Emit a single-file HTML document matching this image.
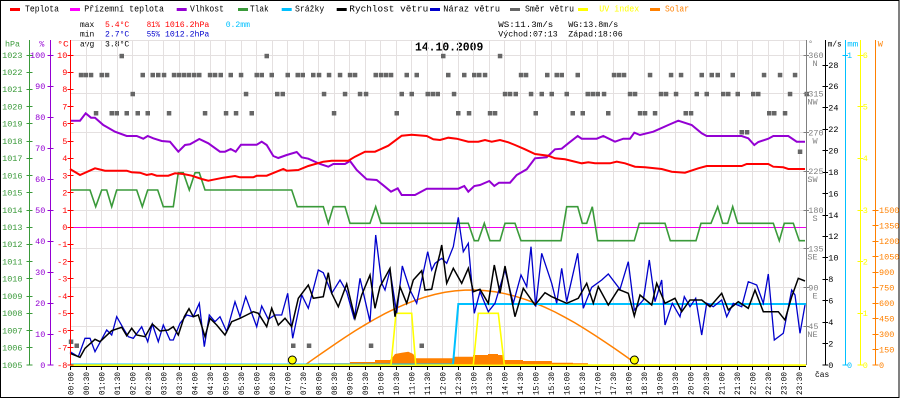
<!DOCTYPE html>
<html><head><meta charset="utf-8">
<style>
html,body{margin:0;padding:0;background:#fff;}
svg{display:block;}
text{font-family:"Liberation Mono","DejaVu Sans Mono",monospace;font-size:8.5px;}
.lg{font-size:9px;}
.ax text{font-size:8.5px;}
</style></head>
<body>
<svg width="900" height="400" viewBox="0 0 900 400" xmlns="http://www.w3.org/2000/svg">
<rect x="0" y="0" width="900" height="400" fill="#fff"/>
<rect x="0.5" y="0.5" width="898.5" height="397" fill="none" stroke="#000" stroke-width="1"/>

<!-- legend -->
<g class="lg">
<rect x="10" y="8" width="10" height="3" fill="#ff0000"/><text class="lg" x="25" y="11.7" textLength="34" lengthAdjust="spacingAndGlyphs">Teplota</text>
<rect x="70" y="8" width="10" height="3" fill="#ff00ff"/><text class="lg" x="84.3" y="11.7" textLength="79.7" lengthAdjust="spacingAndGlyphs">Přízemní teplota</text>
<rect x="176.7" y="8" width="10" height="3" fill="#9400d3"/><text class="lg" x="190" y="11.7" textLength="34" lengthAdjust="spacingAndGlyphs">Vlhkost</text>
<rect x="238" y="8" width="10" height="3" fill="#3a9a3a"/><text class="lg" x="250" y="11.7" textLength="18.7" lengthAdjust="spacingAndGlyphs">Tlak</text>
<rect x="281.7" y="8" width="10" height="3" fill="#00c0ff"/><text class="lg" x="295" y="11.7" textLength="29.3" lengthAdjust="spacingAndGlyphs">Srážky</text>
<rect x="336.7" y="8" width="10" height="3" fill="#000"/><text class="lg" x="349.3" y="11.7" textLength="79" lengthAdjust="spacingAndGlyphs">Rychlost větru</text>
<rect x="430" y="8" width="10" height="3" fill="#0000cc"/><text class="lg" x="443.3" y="11.7" textLength="56.7" lengthAdjust="spacingAndGlyphs">Náraz větru</text>
<rect x="510" y="8" width="10" height="3" fill="#666"/><text class="lg" x="525" y="11.7" textLength="49" lengthAdjust="spacingAndGlyphs">Směr větru</text>
<rect x="578" y="8" width="10" height="3" fill="#ffff00"/><text class="lg" x="599.3" y="11.7" textLength="40" lengthAdjust="spacingAndGlyphs" fill="#ffff00">UV index</text>
<rect x="650" y="8" width="10" height="3" fill="#ff8000"/><text class="lg" x="665" y="11.7" textLength="24" lengthAdjust="spacingAndGlyphs" fill="#ff8000">Solar</text>
</g>

<!-- stats -->
<text x="80" y="27" textLength="14.3" lengthAdjust="spacingAndGlyphs">max</text>
<text x="105" y="27" textLength="24.3" lengthAdjust="spacingAndGlyphs" fill="#ff0000">5.4°C</text>
<text x="146.7" y="27" textLength="13.3" lengthAdjust="spacingAndGlyphs" fill="#ff0000">81%</text>
<text x="165" y="27" textLength="44.3" lengthAdjust="spacingAndGlyphs" fill="#ff0000">1016.2hPa</text>
<text x="225.7" y="27" textLength="24.3" lengthAdjust="spacingAndGlyphs" fill="#00c0ff">0.2mm</text>
<text x="80" y="36.7" textLength="14.3" lengthAdjust="spacingAndGlyphs">min</text>
<text x="105" y="36.7" textLength="24.3" lengthAdjust="spacingAndGlyphs" fill="#0000cc">2.7°C</text>
<text x="146.7" y="36.7" textLength="13.3" lengthAdjust="spacingAndGlyphs" fill="#0000cc">55%</text>
<text x="165" y="36.7" textLength="44.3" lengthAdjust="spacingAndGlyphs" fill="#0000cc">1012.2hPa</text>
<text x="80" y="46.7" textLength="14.3" lengthAdjust="spacingAndGlyphs">avg</text>
<text x="105" y="46.7" textLength="24.3" lengthAdjust="spacingAndGlyphs">3.8°C</text>
<text x="498.3" y="27" textLength="55" lengthAdjust="spacingAndGlyphs">WS:11.3m/s</text>
<text x="568.3" y="27" textLength="50" lengthAdjust="spacingAndGlyphs">WG:13.8m/s</text>
<text x="498.3" y="36.7" textLength="59.4" lengthAdjust="spacingAndGlyphs">Východ:07:13</text>
<text x="568.3" y="36.7" textLength="54.4" lengthAdjust="spacingAndGlyphs">Západ:18:06</text>
<text x="415" y="50.7" textLength="68.3" lengthAdjust="spacingAndGlyphs" style="font-size:11.5px;font-weight:bold">14.10.2009</text>

<!-- grid -->
<g stroke="#e4e0e0" stroke-width="1" shape-rendering="crispEdges">
<path d="M70,40.5H806 M70,55.5H806 M70,93.5H806 M70,132.5H806 M70,171.5H806 M70,210.5H806 M70,248.5H806 M70,287.5H806 M70,326.5H806"/>
<path d="M86.5,40V365 M101.5,40V365 M117.5,40V365 M132.5,40V365 M148.5,40V365 M163.5,40V365 M179.5,40V365 M194.5,40V365 M210.5,40V365 M225.5,40V365 M241.5,40V365 M256.5,40V365 M272.5,40V365 M287.5,40V365 M303.5,40V365 M318.5,40V365 M334.5,40V365 M349.5,40V365 M365.5,40V365 M380.5,40V365 M396.5,40V365 M411.5,40V365 M427.5,40V365 M442.5,40V365 M458.5,40V365 M473.5,40V365 M489.5,40V365 M504.5,40V365 M520.5,40V365 M535.5,40V365 M551.5,40V365 M566.5,40V365 M582.5,40V365 M597.5,40V365 M613.5,40V365 M628.5,40V365 M644.5,40V365 M659.5,40V365 M675.5,40V365 M690.5,40V365 M706.5,40V365 M721.5,40V365 M737.5,40V365 M752.5,40V365 M768.5,40V365 M783.5,40V365 M799.5,40V365"/>
</g>

<!-- 0 line -->
<path d="M70,227.5H806" stroke="#ee00ee" stroke-width="1" shape-rendering="crispEdges"/>

<!-- solar fill -->
<path d="M318,365 L318,363.3 L350,363.3 L350,362 L375,362 L375,360 L390,360 L392,358 L395,354 L401.7,352.7 L408.3,351.7 L413.3,354 L415.7,358.3 L453,358.3 L453,356.7 L473,356.7 L473,355 L488,355 L488,354 L498,354 L498,355 L503,355 L503,360 L523,360 L523,361 L552,361 L552,362.7 L573,362.7 L573,363.3 L588,363.3 L588,365 Z" fill="#ff8000"/>
<!-- solar curve -->
<polyline fill="none" stroke="#ff8000" stroke-width="1.5" points="305,365 313,359.3 321,353.7 329,348.2 337,342.7 345,337.4 355,330.9 365,324.8 375,319 385,313.6 395,308.7 405,304.3 415,300.4 425,297.1 435,294.4 445,292.3 455,290.9 465,290.1 475,290 485,290.6 495,291.8 505,293.7 515,296.2 525,299.3 535,303 545,307.3 555,312 565,317.3 575,322.9 585,329 595,335.4 605,342 615,348.8 625,355.8 633,361.5 638,365"/>

<!-- wind direction squares -->
<g fill="#666">
<rect x="119.5" y="53.8" width="4.5" height="4.5"/><rect x="264.5" y="53.8" width="4.5" height="4.5"/><rect x="441" y="53.8" width="4.5" height="4.5"/><rect x="497.8" y="53.8" width="4.5" height="4.5"/>
<g transform="translate(0,72.8)">
<rect x="78.8" width="4.5" height="4.5"/><rect x="83.5" width="4.5" height="4.5"/><rect x="88.8" width="4.5" height="4.5"/><rect x="99.5" width="4.5" height="4.5"/><rect x="104.8" width="4.5" height="4.5"/><rect x="140.5" width="4.5" height="4.5"/><rect x="150.5" width="4.5" height="4.5"/><rect x="156" width="4.5" height="4.5"/><rect x="161.8" width="4.5" height="4.5"/><rect x="171.8" width="4.5" height="4.5"/><rect x="176.8" width="4.5" height="4.5"/><rect x="181.8" width="4.5" height="4.5"/><rect x="186.8" width="4.5" height="4.5"/><rect x="192" width="4.5" height="4.5"/><rect x="197" width="4.5" height="4.5"/><rect x="207.8" width="4.5" height="4.5"/><rect x="212.8" width="4.5" height="4.5"/><rect x="218.5" width="4.5" height="4.5"/><rect x="228.5" width="4.5" height="4.5"/><rect x="238.8" width="4.5" height="4.5"/><rect x="254.5" width="4.5" height="4.5"/><rect x="259.5" width="4.5" height="4.5"/><rect x="269.5" width="4.5" height="4.5"/><rect x="285.5" width="4.5" height="4.5"/><rect x="295.5" width="4.5" height="4.5"/><rect x="300.5" width="4.5" height="4.5"/><rect x="311" width="4.5" height="4.5"/><rect x="316.8" width="4.5" height="4.5"/><rect x="326.8" width="4.5" height="4.5"/><rect x="337.8" width="4.5" height="4.5"/><rect x="347.8" width="4.5" height="4.5"/><rect x="352.8" width="4.5" height="4.5"/><rect x="373.5" width="4.5" height="4.5"/><rect x="378.8" width="4.5" height="4.5"/><rect x="383.8" width="4.5" height="4.5"/><rect x="388.8" width="4.5" height="4.5"/><rect x="404.5" width="4.5" height="4.5"/><rect x="414.5" width="4.5" height="4.5"/><rect x="446" width="4.5" height="4.5"/><rect x="462" width="4.5" height="4.5"/><rect x="472" width="4.5" height="4.5"/><rect x="477" width="4.5" height="4.5"/><rect x="482.8" width="4.5" height="4.5"/><rect x="518.8" width="4.5" height="4.5"/><rect x="523.8" width="4.5" height="4.5"/><rect x="545" width="4.5" height="4.5"/><rect x="554.5" width="4.5" height="4.5"/><rect x="559.5" width="4.5" height="4.5"/><rect x="575.5" width="4.5" height="4.5"/><rect x="611.8" width="4.5" height="4.5"/><rect x="616.8" width="4.5" height="4.5"/><rect x="621.8" width="4.5" height="4.5"/><rect x="647.8" width="4.5" height="4.5"/><rect x="668.8" width="4.5" height="4.5"/><rect x="678.8" width="4.5" height="4.5"/><rect x="699.5" width="4.5" height="4.5"/><rect x="709.5" width="4.5" height="4.5"/><rect x="715.5" width="4.5" height="4.5"/><rect x="730.5" width="4.5" height="4.5"/><rect x="761.8" width="4.5" height="4.5"/><rect x="777.8" width="4.5" height="4.5"/><rect x="792.8" width="4.5" height="4.5"/>
</g>
<g transform="translate(0,91.8)">
<rect x="130.5" width="4.5" height="4.5"/><rect x="243.8" width="4.5" height="4.5"/><rect x="275" width="4.5" height="4.5"/><rect x="280.5" width="4.5" height="4.5"/><rect x="321.8" width="4.5" height="4.5"/><rect x="342.8" width="4.5" height="4.5"/><rect x="357.8" width="4.5" height="4.5"/><rect x="363.8" width="4.5" height="4.5"/><rect x="399.5" width="4.5" height="4.5"/><rect x="409.5" width="4.5" height="4.5"/><rect x="425.5" width="4.5" height="4.5"/><rect x="430.5" width="4.5" height="4.5"/><rect x="435.5" width="4.5" height="4.5"/><rect x="451.8" width="4.5" height="4.5"/><rect x="502.8" width="4.5" height="4.5"/><rect x="507.8" width="4.5" height="4.5"/><rect x="513.5" width="4.5" height="4.5"/><rect x="528.8" width="4.5" height="4.5"/><rect x="539.5" width="4.5" height="4.5"/><rect x="549.5" width="4.5" height="4.5"/><rect x="564.5" width="4.5" height="4.5"/><rect x="585.5" width="4.5" height="4.5"/><rect x="590.5" width="4.5" height="4.5"/><rect x="595.5" width="4.5" height="4.5"/><rect x="601.8" width="4.5" height="4.5"/><rect x="627.8" width="4.5" height="4.5"/><rect x="632.8" width="4.5" height="4.5"/><rect x="658.8" width="4.5" height="4.5"/><rect x="663.8" width="4.5" height="4.5"/><rect x="673.8" width="4.5" height="4.5"/><rect x="694.5" width="4.5" height="4.5"/><rect x="704.5" width="4.5" height="4.5"/><rect x="721" width="4.5" height="4.5"/><rect x="726" width="4.5" height="4.5"/><rect x="735.5" width="4.5" height="4.5"/><rect x="751" width="4.5" height="4.5"/><rect x="756" width="4.5" height="4.5"/><rect x="787.8" width="4.5" height="4.5"/><rect x="804.5" width="4.5" height="4.5"/>
</g>
<g transform="translate(0,111)">
<rect x="93.8" width="4.5" height="4.5"/><rect x="109.5" width="4.5" height="4.5"/><rect x="114.5" width="4.5" height="4.5"/><rect x="124.5" width="4.5" height="4.5"/><rect x="135.5" width="4.5" height="4.5"/><rect x="145.5" width="4.5" height="4.5"/><rect x="166.8" width="4.5" height="4.5"/><rect x="202.8" width="4.5" height="4.5"/><rect x="223.8" width="4.5" height="4.5"/><rect x="233.8" width="4.5" height="4.5"/><rect x="249.5" width="4.5" height="4.5"/><rect x="331.8" width="4.5" height="4.5"/><rect x="394.5" width="4.5" height="4.5"/><rect x="456" width="4.5" height="4.5"/><rect x="466.8" width="4.5" height="4.5"/><rect x="487.8" width="4.5" height="4.5"/><rect x="492.8" width="4.5" height="4.5"/><rect x="533.5" width="4.5" height="4.5"/><rect x="570.5" width="4.5" height="4.5"/><rect x="580.5" width="4.5" height="4.5"/><rect x="606" width="4.5" height="4.5"/><rect x="637.8" width="4.5" height="4.5"/><rect x="642.8" width="4.5" height="4.5"/><rect x="652.8" width="4.5" height="4.5"/><rect x="683.5" width="4.5" height="4.5"/><rect x="688.8" width="4.5" height="4.5"/><rect x="767" width="4.5" height="4.5"/><rect x="772" width="4.5" height="4.5"/><rect x="782.8" width="4.5" height="4.5"/>
</g>
<rect x="739.5" y="130" width="4.5" height="4.5"/><rect x="744.8" y="130" width="4.5" height="4.5"/>
<rect x="797.8" y="149.5" width="4.5" height="4.5"/>
<rect x="68.8" y="339.5" width="4.5" height="4.5"/><rect x="74.5" y="343.5" width="4.5" height="4.5"/><rect x="291" y="343.5" width="4.5" height="4.5"/><rect x="306.8" y="343.5" width="4.5" height="4.5"/><rect x="368.8" y="343.5" width="4.5" height="4.5"/><rect x="419.5" y="343.5" width="4.5" height="4.5"/>
</g>

<!-- rain -->
<polyline fill="none" stroke="#00c0ff" stroke-width="2" points="70,364.5 453,364.5 458.3,304 806,304"/>
<!-- UV -->
<polyline fill="none" stroke="#ffff00" stroke-width="1.6" points="70,365 391,365 396,313.3 411.7,313.3 415.7,365 473.3,365 478.3,313.3 498.3,313.3 504.3,365 806,365"/>

<!-- pressure -->
<polyline fill="none" stroke="#3a9a3a" stroke-width="1.6" points="70,190 90,190 95.7,206.7 101.7,190 106.7,190 111.7,206.7 116.7,190 136.7,190 142.3,206.7 147.7,190 157.7,190 163.3,206.7 173.3,206.7 178.3,172.7 183.3,172.7 189.3,190 195,172.7 199.3,172.7 205,190 291.7,190 297.3,206.7 323.3,206.7 328.3,223.3 333.3,206.7 345,206.7 350,223.3 370,223.3 375.7,206.7 381,223.3 468.3,223.3 474.3,240.7 478.3,240.7 484.3,223.3 490,240.7 500,240.7 505,223.3 515,223.3 521,240.7 561,240.7 566.7,206.7 577.7,206.7 582.3,223.3 586.7,223.3 592.3,206.7 597.7,240.7 634.3,240.7 639.3,223.3 665,223.3 670.3,240.7 696,240.7 701,223.3 711,223.3 717.7,206.7 722.7,223.3 727.7,223.3 732.7,206.7 737.7,223.3 773.3,223.3 779.3,240.7 784.3,223.3 793.3,223.3 799.3,240.7 805,240.7"/>

<!-- humidity -->
<polyline fill="none" stroke="#9400d3" stroke-width="2" points="70,120.7 80,120.7 85.7,113.3 91,117.7 95,117.7 103.3,125 115,131.7 126.7,136 136.7,136 143.3,138.7 147.7,136 153.3,138.3 161.7,141 170,141.7 178.3,151.7 185,145 190,144.3 199.3,139 208.3,143.3 220,151.7 225,151.7 230.7,149 235.7,151.7 241,144.7 256.7,144.7 261.7,141.7 266.7,145 273.3,156 278.3,158 286.7,155 296.7,152 301.7,157.3 308.3,158.7 320,164 328.3,166.7 333.3,164 345,164 350,161 356.7,170 366.7,179.3 376.7,180 385,186.7 391,191.7 397.7,188.3 401.7,195 415,195 426.7,188.7 441.7,188.7 458.3,188.7 464.3,186 468.3,191.7 474.3,186 480,185 489.3,181 494.3,186 499,182.7 510,182.7 516.7,175 526.7,169.3 535,158.3 546.7,157.3 555,149.3 561.7,148.7 568.3,143.3 577.7,136 581.7,138.7 596.7,138.7 603.3,136 615,141.7 623.3,138.7 630,138.7 634.3,132.7 640,135 653.3,131.7 668.3,125 678.3,120.7 691.7,125 701.7,133.3 706.7,136 741.7,136 748.3,138.3 754.3,145 758.3,142 768.3,138.7 773.3,136 788.3,136 796.7,141.7 805,141.7"/>

<!-- temperature -->
<polyline fill="none" stroke="#ff0000" stroke-width="2" points="70,169 80,175 95,168.3 105,170.7 126.7,170.7 131.7,172.3 140,172.7 146.7,175 151.7,174 156.7,175.7 168.3,175.7 175,173.3 183.3,174 191.7,175.7 201.7,179 208.3,180.7 213.3,179.7 223.3,177.7 235,176 240,177.3 253.3,177.3 256.7,175.7 266.7,175.7 275,172.3 283.3,169 286.7,170.7 298.3,170 308.3,166 323.3,161.7 331.7,160.7 348.3,160.7 355,156.7 365,151.7 375,151.7 388.3,145.7 401.7,135.7 411.7,134.7 426.7,136 433.3,139.3 440,140 448.3,137.7 456.7,138.7 468.3,141.7 478.3,141.7 485,140 491.7,141.7 500,140 508.3,142.3 515,145 525,149.3 535,154 548.3,155.7 555,158.3 565,159.3 581.7,163.3 588.3,162.3 595,163.3 610,163.3 616.7,161.7 625,163.3 635,166.7 645,167.3 661.7,169 671.7,171.7 685,172.7 698.3,168.3 706.7,166 741.7,166 746.7,164 768.3,164 773.3,166.7 783.3,167.3 788.3,169 805,169"/>

<!-- gust -->
<polyline fill="none" stroke="#0000cc" stroke-width="1.3" points="70,351.7 78.3,356.7 85,338.3 90,338.3 95,351.7 106.7,330 111.7,335 116.7,316.7 123.3,328.3 128.3,336.7 133.3,338.3 141.7,326.7 147.7,341.7 152.3,324 158.3,341.7 163.3,325 170,340 173.3,340 180,323.3 186.7,315 193.3,316.7 199.3,303.3 204.3,346.7 209.3,315 215,321.7 220,316.7 226.7,331.7 235,301.7 240,316.7 245.7,296.7 256.7,326.7 261.7,306 268.3,319.3 275,315 281.7,315 287.7,293.3 292.7,338.3 301.7,295 308.3,308.3 318.3,270 323.3,272.7 331.7,293.3 340,280 346.7,291.7 354.3,319.3 360,278.3 370,321.7 375.7,235 381.7,283.3 385,290 390,270 396.7,313.3 402.3,266 410,290 416.7,303.3 427.7,251.7 431.7,270 435,263.3 441.7,258.3 446.7,263.3 453.3,246.7 458.3,217.3 463.3,251.7 468.3,243.3 474.3,313.3 480,291.7 488.3,311.7 495,303.3 505,270 513.3,303.3 521,275 526.7,286.7 531,246.7 535.7,306.7 541.7,253.3 551.7,283.3 556.7,303.3 561.7,268.3 566.7,301.7 577.7,253.3 583.3,308.3 591.7,287.3 601.7,280 608.3,274 620,289.3 628.3,261.7 634.3,310 643.3,300 649.3,260 655,301.7 661.7,280 665,325 672.3,303.3 680,316.7 684.3,296.7 690,306.7 695.7,298.3 701.7,335 706.7,303.3 713.3,306.7 721.7,300 726.7,316.7 733.3,303.3 741.7,306.7 748.3,281.7 756.7,285 763.3,303.3 768.3,274 774.3,340 783.3,333.3 791.7,290 795,295 800,333.3 805,305"/>

<!-- wind speed -->
<polyline fill="none" stroke="#000" stroke-width="1.5" points="70,353.3 80,357.3 85,348.3 95,339.3 100,341.7 111.7,330.7 121.7,327.3 126.7,335.7 131.7,328.3 136.7,335 145,336.7 152.3,324 160,331 168.3,330 173.3,326.7 178.3,335 184.3,316.7 189,308.7 193.3,316.7 198.3,315 205,336.7 210,318.3 216.7,325 225,335 231.7,321.7 240,318.3 246.7,315 253.3,311.7 258.3,313.3 266.7,326.7 271.7,308.3 278.3,325 285,318.3 291.7,326.7 298.3,298.3 308.3,285 313.3,298.3 323.3,296.7 328.3,272.7 331.7,293.3 338.3,306.7 346.7,284 355,318.3 361.7,295 370,275 375,308.3 380,286.7 390,268.3 395,316.7 400,286.7 406.7,303.3 413.3,280 421.7,270.7 425,290 431.7,289.3 435,273.3 440,253.3 441.7,245 446.7,283.3 453.3,268.3 461.7,283.3 468.3,268.3 473.3,291.7 480,289.3 488.3,303.3 494.3,265 500,293.3 505,266 515,316.7 523.3,288.3 535,305 545,292.7 551.7,296.7 566.7,303.3 578.3,298.3 586.7,283.3 593.3,303.3 598.3,286.7 608.3,305 618.3,289.3 628.3,293.3 634.3,316 640,295 651.7,305 656.7,283.3 665,303.3 675,298.3 681.7,311.7 690,300 701.7,300 710,306.7 721.7,293.3 728.3,310 738.3,301.7 748.3,308.3 755,290 763.3,311.7 778.3,311.7 785,320 791.7,296.7 798.3,278.3 805,281"/>

<!-- sunrise / sunset -->
<circle cx="292.3" cy="360" r="4" fill="#ffff00" stroke="#000" stroke-width="1"/>
<circle cx="634.4" cy="360" r="4" fill="#ffff00" stroke="#000" stroke-width="1"/>

<!-- bottom axis -->
<path d="M70,366.5H806" stroke="#000" stroke-width="1" shape-rendering="crispEdges"/>
<path d="M70,365.2H806" stroke="#ffff00" stroke-width="1.4"/>
<g stroke="#000" stroke-width="1" shape-rendering="crispEdges">
<path d="M70.5,366V370 M86.5,366V370 M101.5,366V370 M117.5,366V370 M132.5,366V370 M148.5,366V370 M163.5,366V370 M179.5,366V370 M194.5,366V370 M210.5,366V370 M225.5,366V370 M241.5,366V370 M256.5,366V370 M272.5,366V370 M287.5,366V370 M303.5,366V370 M318.5,366V370 M334.5,366V370 M349.5,366V370 M365.5,366V370 M380.5,366V370 M396.5,366V370 M411.5,366V370 M427.5,366V370 M442.5,366V370 M458.5,366V370 M473.5,366V370 M489.5,366V370 M504.5,366V370 M520.5,366V370 M535.5,366V370 M551.5,366V370 M566.5,366V370 M582.5,366V370 M597.5,366V370 M613.5,366V370 M628.5,366V370 M644.5,366V370 M659.5,366V370 M675.5,366V370 M690.5,366V370 M706.5,366V370 M721.5,366V370 M737.5,366V370 M752.5,366V370 M768.5,366V370 M783.5,366V370 M799.5,366V370"/>
</g>

<!-- x labels -->
<g style="font-size:8px">
<text transform="translate(73.4,395) rotate(-90)" textLength="23" lengthAdjust="spacingAndGlyphs">00:00</text>
<text transform="translate(88.9,395) rotate(-90)" textLength="23" lengthAdjust="spacingAndGlyphs">00:30</text>
<text transform="translate(104.4,395) rotate(-90)" textLength="23" lengthAdjust="spacingAndGlyphs">01:00</text>
<text transform="translate(119.9,395) rotate(-90)" textLength="23" lengthAdjust="spacingAndGlyphs">01:30</text>
<text transform="translate(135.4,395) rotate(-90)" textLength="23" lengthAdjust="spacingAndGlyphs">02:00</text>
<text transform="translate(150.9,395) rotate(-90)" textLength="23" lengthAdjust="spacingAndGlyphs">02:30</text>
<text transform="translate(166.4,395) rotate(-90)" textLength="23" lengthAdjust="spacingAndGlyphs">03:00</text>
<text transform="translate(181.9,395) rotate(-90)" textLength="23" lengthAdjust="spacingAndGlyphs">03:30</text>
<text transform="translate(197.4,395) rotate(-90)" textLength="23" lengthAdjust="spacingAndGlyphs">04:00</text>
<text transform="translate(212.9,395) rotate(-90)" textLength="23" lengthAdjust="spacingAndGlyphs">04:30</text>
<text transform="translate(228.4,395) rotate(-90)" textLength="23" lengthAdjust="spacingAndGlyphs">05:00</text>
<text transform="translate(243.9,395) rotate(-90)" textLength="23" lengthAdjust="spacingAndGlyphs">05:30</text>
<text transform="translate(259.4,395) rotate(-90)" textLength="23" lengthAdjust="spacingAndGlyphs">06:00</text>
<text transform="translate(274.9,395) rotate(-90)" textLength="23" lengthAdjust="spacingAndGlyphs">06:30</text>
<text transform="translate(290.4,395) rotate(-90)" textLength="23" lengthAdjust="spacingAndGlyphs">07:00</text>
<text transform="translate(305.9,395) rotate(-90)" textLength="23" lengthAdjust="spacingAndGlyphs">07:30</text>
<text transform="translate(321.4,395) rotate(-90)" textLength="23" lengthAdjust="spacingAndGlyphs">08:00</text>
<text transform="translate(336.9,395) rotate(-90)" textLength="23" lengthAdjust="spacingAndGlyphs">08:30</text>
<text transform="translate(352.4,395) rotate(-90)" textLength="23" lengthAdjust="spacingAndGlyphs">09:00</text>
<text transform="translate(367.9,395) rotate(-90)" textLength="23" lengthAdjust="spacingAndGlyphs">09:30</text>
<text transform="translate(383.4,395) rotate(-90)" textLength="23" lengthAdjust="spacingAndGlyphs">10:00</text>
<text transform="translate(398.9,395) rotate(-90)" textLength="23" lengthAdjust="spacingAndGlyphs">10:30</text>
<text transform="translate(414.4,395) rotate(-90)" textLength="23" lengthAdjust="spacingAndGlyphs">11:00</text>
<text transform="translate(429.9,395) rotate(-90)" textLength="23" lengthAdjust="spacingAndGlyphs">11:30</text>
<text transform="translate(445.4,395) rotate(-90)" textLength="23" lengthAdjust="spacingAndGlyphs">12:00</text>
<text transform="translate(460.9,395) rotate(-90)" textLength="23" lengthAdjust="spacingAndGlyphs">12:30</text>
<text transform="translate(476.4,395) rotate(-90)" textLength="23" lengthAdjust="spacingAndGlyphs">13:00</text>
<text transform="translate(491.9,395) rotate(-90)" textLength="23" lengthAdjust="spacingAndGlyphs">13:30</text>
<text transform="translate(507.4,395) rotate(-90)" textLength="23" lengthAdjust="spacingAndGlyphs">14:00</text>
<text transform="translate(522.9,395) rotate(-90)" textLength="23" lengthAdjust="spacingAndGlyphs">14:30</text>
<text transform="translate(538.4,395) rotate(-90)" textLength="23" lengthAdjust="spacingAndGlyphs">15:00</text>
<text transform="translate(553.9,395) rotate(-90)" textLength="23" lengthAdjust="spacingAndGlyphs">15:30</text>
<text transform="translate(569.4,395) rotate(-90)" textLength="23" lengthAdjust="spacingAndGlyphs">16:00</text>
<text transform="translate(584.9,395) rotate(-90)" textLength="23" lengthAdjust="spacingAndGlyphs">16:30</text>
<text transform="translate(600.4,395) rotate(-90)" textLength="23" lengthAdjust="spacingAndGlyphs">17:00</text>
<text transform="translate(615.9,395) rotate(-90)" textLength="23" lengthAdjust="spacingAndGlyphs">17:30</text>
<text transform="translate(631.4,395) rotate(-90)" textLength="23" lengthAdjust="spacingAndGlyphs">18:00</text>
<text transform="translate(646.9,395) rotate(-90)" textLength="23" lengthAdjust="spacingAndGlyphs">18:30</text>
<text transform="translate(662.4,395) rotate(-90)" textLength="23" lengthAdjust="spacingAndGlyphs">19:00</text>
<text transform="translate(677.9,395) rotate(-90)" textLength="23" lengthAdjust="spacingAndGlyphs">19:30</text>
<text transform="translate(693.4,395) rotate(-90)" textLength="23" lengthAdjust="spacingAndGlyphs">20:00</text>
<text transform="translate(708.9,395) rotate(-90)" textLength="23" lengthAdjust="spacingAndGlyphs">20:30</text>
<text transform="translate(724.4,395) rotate(-90)" textLength="23" lengthAdjust="spacingAndGlyphs">21:00</text>
<text transform="translate(739.9,395) rotate(-90)" textLength="23" lengthAdjust="spacingAndGlyphs">21:30</text>
<text transform="translate(755.4,395) rotate(-90)" textLength="23" lengthAdjust="spacingAndGlyphs">22:00</text>
<text transform="translate(770.9,395) rotate(-90)" textLength="23" lengthAdjust="spacingAndGlyphs">22:30</text>
<text transform="translate(786.4,395) rotate(-90)" textLength="23" lengthAdjust="spacingAndGlyphs">23:00</text>
<text transform="translate(801.9,395) rotate(-90)" textLength="23" lengthAdjust="spacingAndGlyphs">23:30</text>
</g>
<text x="815" y="377" textLength="14.3" lengthAdjust="spacingAndGlyphs">čas</text>

<!-- LEFT AXES -->
<g shape-rendering="crispEdges" stroke-width="1">
<path d="M29.5,40V365" stroke="#3a9a3a"/>
<path d="M50.5,40V365" stroke="#9400d3"/>
<path d="M70.5,40V365" stroke="#ff0000"/>
<path d="M806.5,40V365" stroke="#808080"/>
<path d="M825.5,40V365" stroke="#000"/>
<path d="M845.5,40V365" stroke="#00c0ff"/>
<path d="M860.5,40V365" stroke="#ffff00"/>
<path d="M875.5,40V365" stroke="#ff8000"/>
<path stroke="#3a9a3a" d="M26.5,55.5H32.5 M26.5,72.5H32.5 M26.5,89.5H32.5 M26.5,106.5H32.5 M26.5,123.5H32.5 M26.5,141.5H32.5 M26.5,158.5H32.5 M26.5,175.5H32.5 M26.5,192.5H32.5 M26.5,210.5H32.5 M26.5,227.5H32.5 M26.5,244.5H32.5 M26.5,261.5H32.5 M26.5,278.5H32.5 M26.5,296.5H32.5 M26.5,313.5H32.5 M26.5,330.5H32.5 M26.5,347.5H32.5 M26.5,365H32.5"/>
<path stroke="#9400d3" d="M47.5,55.5H53.5 M47.5,86.5H53.5 M47.5,117.5H53.5 M47.5,148.5H53.5 M47.5,179.5H53.5 M47.5,210.5H53.5 M47.5,241.5H53.5 M47.5,272.5H53.5 M47.5,303.5H53.5 M47.5,334.5H53.5 M47.5,365H53.5"/>
<path stroke="#ff0000" d="M67.5,55.5H73.5 M67.5,72.5H73.5 M67.5,89.5H73.5 M67.5,106.5H73.5 M67.5,123.5H73.5 M67.5,141.5H73.5 M67.5,158.5H73.5 M67.5,175.5H73.5 M67.5,192.5H73.5 M67.5,210.5H73.5 M67.5,227.5H73.5 M67.5,244.5H73.5 M67.5,261.5H73.5 M67.5,278.5H73.5 M67.5,296.5H73.5 M67.5,313.5H73.5 M67.5,330.5H73.5 M67.5,347.5H73.5 M67.5,365H73.5"/>
<path stroke="#808080" d="M803.5,55.5H809 M803.5,93.5H809 M803.5,132.5H809 M803.5,171.5H809 M803.5,210.5H809 M803.5,248.5H809 M803.5,287.5H809 M803.5,326.5H809"/>
<path stroke="#000" d="M822.5,65.5H828 M822.5,86.5H828 M822.5,107.5H828 M822.5,129.5H828 M822.5,150.5H828 M822.5,172.5H828 M822.5,193.5H828 M822.5,215.5H828 M822.5,236.5H828 M822.5,257.5H828 M822.5,279.5H828 M822.5,300.5H828 M822.5,322.5H828 M822.5,343.5H828 M822.5,365H828"/>
<path stroke="#00c0ff" d="M842.5,55.5H848 M842.5,365H848"/>
<path stroke="#ffff00" d="M857.5,55.5H863 M857.5,106.5H863 M857.5,158.5H863 M857.5,210.5H863 M857.5,261.5H863 M857.5,313.5H863 M857.5,365H863"/>
<path stroke="#ff8000" d="M872.5,210.5H878.5 M872.5,225.5H878.5 M872.5,241.5H878.5 M872.5,256.5H878.5 M872.5,272.5H878.5 M872.5,287.5H878.5 M872.5,303.5H878.5 M872.5,318.5H878.5 M872.5,334.5H878.5 M872.5,349.5H878.5 M872.5,365H878.5"/>
</g>

<!-- axis units -->
<text x="5" y="46.7" fill="#3a9a3a" textLength="15" lengthAdjust="spacingAndGlyphs">hPa</text>
<text x="39.3" y="46.7" fill="#9400d3">%</text>
<text x="57.3" y="46.7" fill="#ff0000" textLength="11.5" lengthAdjust="spacingAndGlyphs">°C</text>
<text x="808" y="46" fill="#808080">°</text>
<text x="827.7" y="46.7" textLength="14" lengthAdjust="spacingAndGlyphs">m/s</text>
<text x="847.3" y="46.7" fill="#00c0ff" textLength="11" lengthAdjust="spacingAndGlyphs">mm</text>
<text x="877.7" y="46.7" fill="#ff8000">W</text>

<!-- green labels -->
<g fill="#3a9a3a" text-anchor="end">
<text x="22.5" y="57.8">1023</text><text x="22.5" y="75">1022</text><text x="22.5" y="92.2">1021</text><text x="22.5" y="109.5">1020</text><text x="22.5" y="126.7">1019</text><text x="22.5" y="143.9">1018</text><text x="22.5" y="161.1">1017</text><text x="22.5" y="178.4">1016</text><text x="22.5" y="195.6">1015</text><text x="22.5" y="212.8">1014</text><text x="22.5" y="230">1013</text><text x="22.5" y="247.2">1012</text><text x="22.5" y="264.5">1011</text><text x="22.5" y="281.7">1010</text><text x="22.5" y="298.9">1009</text><text x="22.5" y="316.1">1008</text><text x="22.5" y="333.4">1007</text><text x="22.5" y="350.6">1006</text><text x="22.5" y="367.8">1005</text>
</g>
<!-- purple labels -->
<g fill="#9400d3" text-anchor="end">
<text x="45.3" y="57.8">100</text><text x="45.3" y="88.8">90</text><text x="45.3" y="119.8">80</text><text x="45.3" y="150.8">70</text><text x="45.3" y="181.8">60</text><text x="45.3" y="212.8">50</text><text x="45.3" y="243.8">40</text><text x="45.3" y="274.8">30</text><text x="45.3" y="305.8">20</text><text x="45.3" y="336.8">10</text><text x="45.3" y="367.8">0</text>
</g>
<!-- red labels -->
<g fill="#ff0000" text-anchor="end">
<text x="67.3" y="57.8">10</text><text x="67.3" y="75">9</text><text x="67.3" y="92.2">8</text><text x="67.3" y="109.5">7</text><text x="67.3" y="126.7">6</text><text x="67.3" y="143.9">5</text><text x="67.3" y="161.1">4</text><text x="67.3" y="178.4">3</text><text x="67.3" y="195.6">2</text><text x="67.3" y="212.8">1</text><text x="67.3" y="230">0</text><text x="67.3" y="247.2">-1</text><text x="67.3" y="264.5">-2</text><text x="67.3" y="281.7">-3</text><text x="67.3" y="298.9">-4</text><text x="67.3" y="316.1">-5</text><text x="67.3" y="333.4">-6</text><text x="67.3" y="350.6">-7</text><text x="67.3" y="367.8">-8</text>
</g>
<!-- gray direction labels -->
<g fill="#808080">
<text x="808.3" y="57.8">360</text><text x="808.3" y="96.5">315</text><text x="808.3" y="135.3">270</text><text x="808.3" y="174">225</text><text x="808.3" y="212.8">180</text><text x="808.3" y="251.5">135</text><text x="808.3" y="290.3">90</text><text x="808.3" y="329">45</text>
</g>
<g fill="#808080" text-anchor="end">
<text x="817.6" y="66">N</text><text x="817.6" y="104.5">NW</text><text x="817.6" y="143.3">W</text><text x="817.6" y="182">SW</text><text x="817.6" y="220.8">S</text><text x="817.6" y="259.5">SE</text><text x="817.6" y="298.3">E</text><text x="817.6" y="337">NE</text>
</g>
<!-- black m/s labels -->
<g fill="#000">
<text x="828.3" y="67.8">28</text><text x="828.3" y="89.2">26</text><text x="828.3" y="110.7">24</text><text x="828.3" y="132.1">22</text><text x="828.3" y="153.5">20</text><text x="828.3" y="174.9">18</text><text x="828.3" y="196.4">16</text><text x="828.3" y="217.8">14</text><text x="828.3" y="239.2">12</text><text x="828.3" y="260.7">10</text><text x="828.3" y="282.1">8</text><text x="828.3" y="303.5">6</text><text x="828.3" y="324.9">4</text><text x="828.3" y="346.4">2</text><text x="828.3" y="367.8">0</text>
</g>
<g fill="#00c0ff"><text x="847" y="57.8">1</text><text x="847" y="367.8">0</text></g>
<g fill="#ffff00">
<text x="862.7" y="57.8">6</text><text x="862.7" y="109.5">5</text><text x="862.7" y="161.1">4</text><text x="862.7" y="212.8">3</text><text x="862.7" y="264.5">2</text><text x="862.7" y="316.1">1</text><text x="862.7" y="367.8">0</text>
</g>
<g fill="#ff8000">
<text x="879" y="212.8">1500</text><text x="879" y="228.3">1350</text><text x="879" y="243.8">1200</text><text x="879" y="259.3">1050</text><text x="879" y="274.8">900</text><text x="879" y="290.3">750</text><text x="879" y="305.8">600</text><text x="879" y="321.3">450</text><text x="879" y="336.8">300</text><text x="879" y="352.3">150</text><text x="879" y="367.8">0</text>
</g>
</svg>
</body></html>
